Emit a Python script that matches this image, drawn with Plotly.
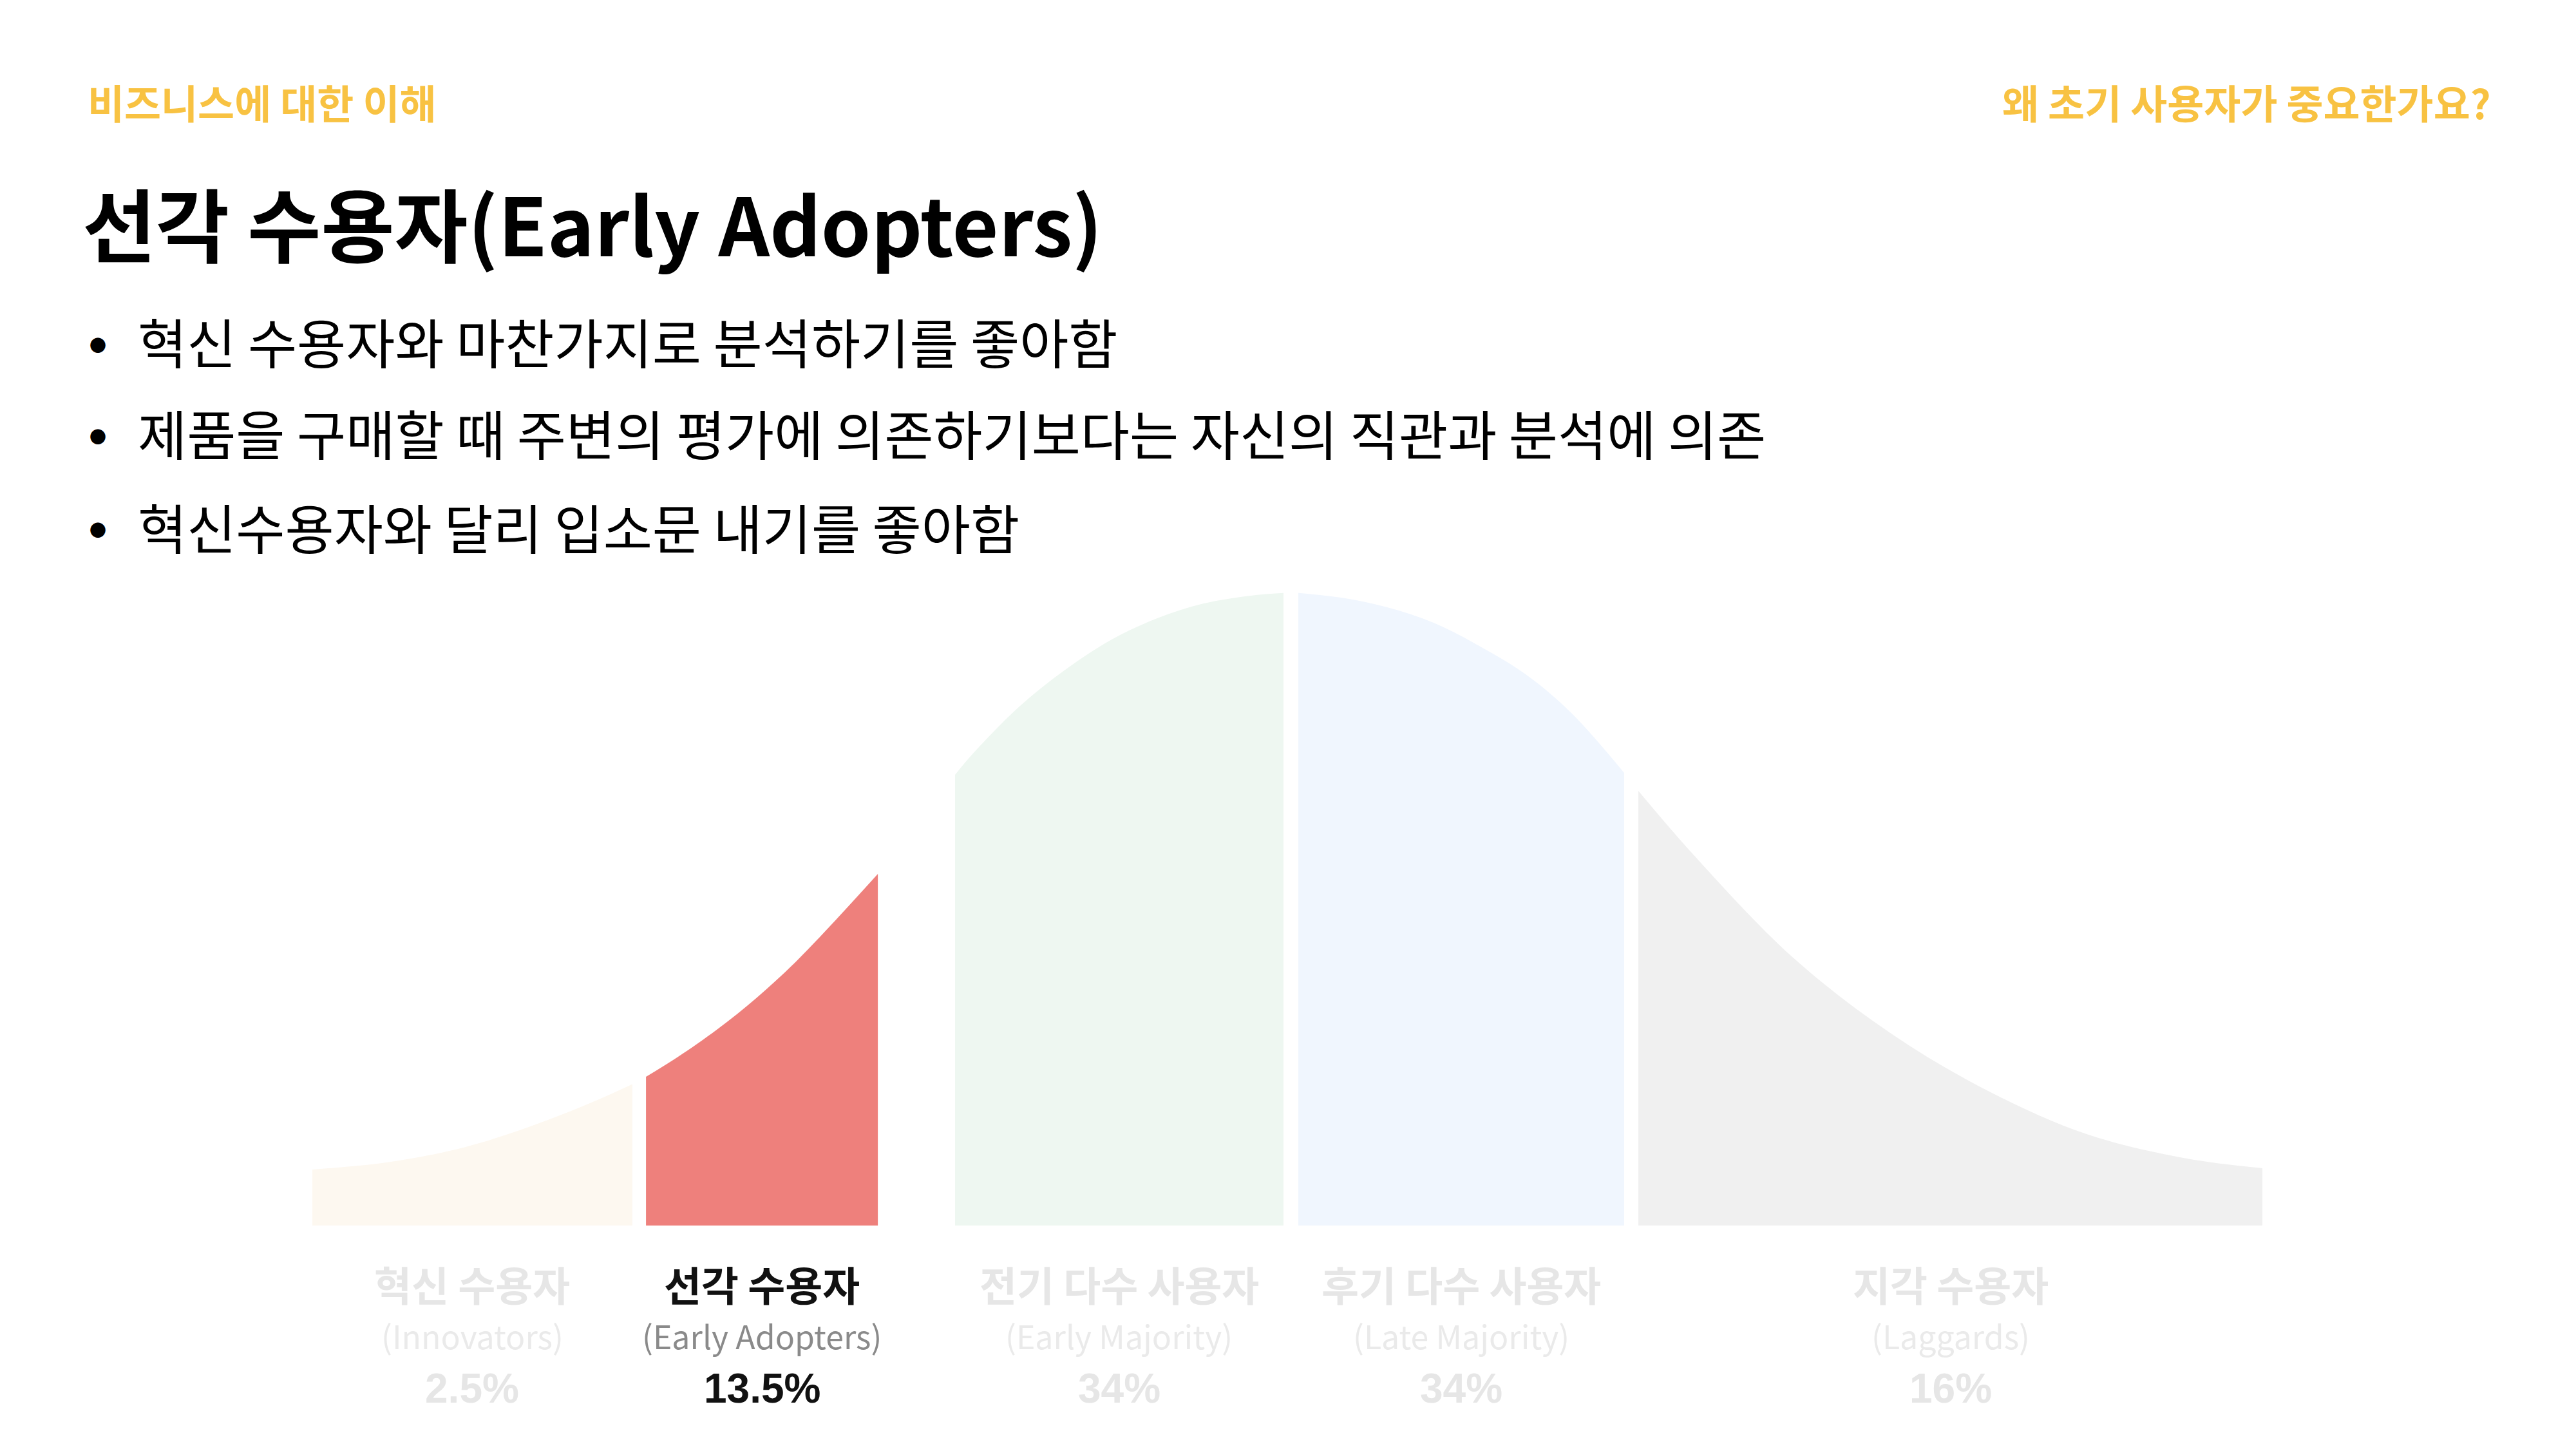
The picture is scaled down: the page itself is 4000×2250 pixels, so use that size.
import plotly.graph_objects as go

# ---- data ----
# outline of the adoption curve (position 0-100 across, height 0-100 at peak)
curve_x = [0.0, 3.57, 6.61, 8.62, 10.63, 12.68, 14.70, 16.41,
           17.11, 18.73, 20.77, 22.79, 24.80, 26.82, 29.00,
           32.96, 33.88, 36.26, 38.61, 40.98, 43.33, 45.71, 48.05, 49.80,
           50.56, 52.77, 55.12, 57.50, 59.84, 62.22, 64.56, 67.27,
           68.00, 70.82, 75.87, 80.93, 85.98, 91.04, 96.09, 100.0]
curve_h = [8.85, 9.87, 11.5, 13.07, 15.06, 17.4, 19.94, 22.33,
           23.5, 26.6, 31.0, 36.0, 41.7, 48.2, 55.54,
           71.21, 74.57, 82.0, 87.79, 92.57, 95.93, 98.27, 99.49, 99.93,
           99.93, 99.19, 97.66, 95.22, 91.56, 87.08, 80.98, 71.52,
           68.67, 58.6, 42.5, 30.4, 21.2, 14.4, 10.6, 9.05]

segments_kr = ['혁신 수용자', '선각 수용자', '전기 다수 사용자', '후기 다수 사용자', '지각 수용자']
segments_en = ['(Innovators)', '(Early Adopters)', '(Early Majority)', '(Late Majority)', '(Laggards)']
shares = ['2.5%', '13.5%', '34%', '34%', '16%']
seg_start = [0.0, 17.11, 32.96, 50.56, 68.00]
seg_end = [16.41, 29.00, 49.80, 67.27, 100.0]
highlight = 1

header_left = '비즈니스에 대한 이해'
header_right = '왜 초기 사용자가 중요한가요?'
title = '선각 수용자(Early Adopters)'
bullets = ['혁신 수용자와 마찬가지로 분석하기를 좋아함',
           '제품을 구매할 때 주변의 평가에 의존하기보다는 자신의 직관과 분석에 의존',
           '혁신수용자와 달리 입소문 내기를 좋아함']

# ---- styles ----
seg_colors = ['#FDF8F0', '#EE807C', '#EEF7F1', '#F0F6FE', '#F0F0F0']
KR = 'Noto Sans CJK KR'
GOLD = '#F8C242'
W, H = 4000, 2250

fig = go.Figure()
for i in range(len(seg_start)):
    xs = [x for x in curve_x if seg_start[i] - 1e-9 <= x <= seg_end[i] + 1e-9]
    ys = [h for x, h in zip(curve_x, curve_h) if seg_start[i] - 1e-9 <= x <= seg_end[i] + 1e-9]
    fig.add_trace(go.Scatter(
        x=xs, y=ys, mode='lines',
        line=dict(width=0, shape='spline', smoothing=1.0, color=seg_colors[i]),
        fill='tozeroy', fillcolor=seg_colors[i],
        hoverinfo='skip', showlegend=False))

ann = []
def py(p):
    return 1 - p / H

# headers
ann.append(dict(text=header_left, x=134 / W, y=py(158), xref='paper', yref='paper',
                xanchor='left', yanchor='middle', showarrow=False,
                font=dict(family=KR, size=62, color=GOLD, weight='bold')))
ann.append(dict(text=header_right, x=3870 / W, y=py(158), xref='paper', yref='paper',
                xanchor='right', yanchor='middle', showarrow=False,
                font=dict(family=KR, size=62, color=GOLD, weight='bold')))
# title
ann.append(dict(text=title, x=126 / W, y=py(344), xref='paper', yref='paper',
                xanchor='left', yanchor='middle', showarrow=False,
                font=dict(family=KR, size=124, color='#000000', weight='bold')))
# bullets
for k, (b, yy) in enumerate(zip(bullets, [529, 671, 817])):
    ann.append(dict(text='●', x=152 / W, y=py(yy + 5), xref='paper', yref='paper',
                    xanchor='center', yanchor='middle', showarrow=False,
                    font=dict(family=KR, size=26, color='#000000')))
    ann.append(dict(text=b, x=212 / W, y=py(yy), xref='paper', yref='paper',
                    xanchor='left', yanchor='middle', showarrow=False,
                    font=dict(family=KR, size=82.8, color='#000000')))

# segment labels
for i in range(len(seg_start)):
    cx = (seg_start[i] + seg_end[i]) / 2
    on = (i == highlight)
    ann.append(dict(text=segments_kr[i], x=cx, y=py(1992), xref='x', yref='paper',
                    xanchor='center', yanchor='middle', showarrow=False,
                    font=dict(family=KR, size=63, color='#111111' if on else '#E6E6E6', weight='bold')))
    ann.append(dict(text=segments_en[i], x=cx, y=py(2073), xref='x', yref='paper',
                    xanchor='center', yanchor='middle', showarrow=False,
                    font=dict(family=KR, size=50, color='#8A8A8A' if on else '#EAEAEA')))
    ann.append(dict(text=shares[i], x=cx, y=py(2156), xref='x', yref='paper',
                    xanchor='center', yanchor='middle', showarrow=False,
                    font=dict(family='Liberation Sans', size=64, color='#111111' if on else '#E6E6E6', weight='bold')))

fig.update_layout(
    width=W, height=H,
    margin=dict(l=0, r=0, t=0, b=0),
    paper_bgcolor='white', plot_bgcolor='white',
    xaxis=dict(visible=False, range=[-1, 101], domain=[0.11368, 0.88582], fixedrange=True),
    yaxis=dict(visible=False, range=[0, 105], domain=[0.15422, 0.6129], fixedrange=True),
    annotations=ann,
    showlegend=False,
)

fig.write_html('out.html')
